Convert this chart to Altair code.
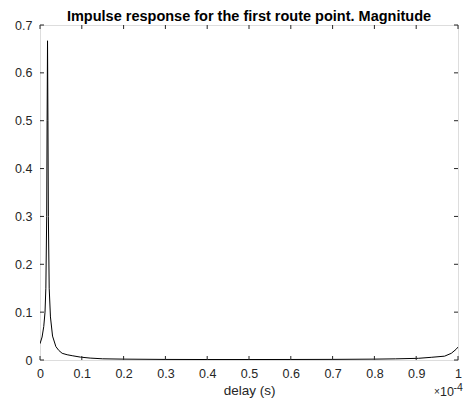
import altair as alt
import pandas as pd

# delay in units of 1e-4 s, magnitude
delay_e4 = [0.000, 0.005, 0.009, 0.012, 0.014, 0.016, 0.017, 0.018, 0.019, 0.020,
            0.022, 0.025, 0.030, 0.038, 0.045, 0.053, 0.065, 0.077, 0.097, 0.120,
            0.150, 0.200, 0.300, 0.400, 0.500, 0.600, 0.700, 0.800, 0.850, 0.905,
            0.936, 0.968, 0.984, 0.995, 1.000]
magnitude = [0.034, 0.048, 0.070, 0.100, 0.150, 0.300, 0.500, 0.667, 0.500, 0.300,
             0.150, 0.090, 0.050, 0.028, 0.020, 0.014, 0.011, 0.009, 0.006, 0.004,
             0.0025, 0.0018, 0.0012, 0.0010, 0.0010, 0.0011, 0.0013, 0.0018, 0.0024, 0.0035,
             0.0056, 0.008, 0.014, 0.022, 0.027]

x_ticks = [0, 0.1, 0.2, 0.3, 0.4, 0.5, 0.6, 0.7, 0.8, 0.9, 1]
y_ticks = [0, 0.1, 0.2, 0.3, 0.4, 0.5, 0.6, 0.7]

W, H = 418, 335
FONT = "Liberation Sans"
AX = "#262626"
TL = 4

df = pd.DataFrame({"delay": delay_e4, "mag": magnitude})
xs = alt.Scale(domain=[0, 1], nice=False, zero=False)
ys = alt.Scale(domain=[0, 0.7], nice=False)

x_axis = alt.Axis(values=x_ticks, title="delay (s)", ticks=False, domain=False,
                  grid=False, labelExpr="format(datum.value, '.1~f')",
                  labelFont=FONT, labelFontSize=12.5, labelColor=AX, labelPadding=7,
                  titleFont=FONT, titleFontSize=13.5, titleFontWeight="normal",
                  titleColor=AX, titlePadding=4, labelFlush=False)
y_axis = alt.Axis(values=y_ticks, title=None, ticks=False, domain=False, grid=False,
                  labelExpr="format(datum.value, '.1~f')",
                  labelFont=FONT, labelFontSize=12.5, labelColor=AX, labelPadding=8,
                  labelFlush=False)

line = alt.Chart(df).mark_line(color="black", strokeWidth=1, clip=True).encode(
    x=alt.X("delay:Q", scale=xs, axis=x_axis),
    y=alt.Y("mag:Q", scale=ys, axis=y_axis),
)

xt = pd.DataFrame({"t": x_ticks})
yt = pd.DataFrame({"t": y_ticks})
xb = alt.Chart(xt).mark_rule(color=AX, strokeWidth=1).encode(
    x=alt.X("t:Q", scale=xs, axis=x_axis), y=alt.value(H), y2=alt.value(H - TL))
xtop = alt.Chart(xt).mark_rule(color=AX, strokeWidth=1).encode(
    x=alt.X("t:Q", scale=xs, axis=x_axis), y=alt.value(0), y2=alt.value(TL))
yl = alt.Chart(yt).mark_rule(color=AX, strokeWidth=1).encode(
    y=alt.Y("t:Q", scale=ys, axis=y_axis), x=alt.value(0), x2=alt.value(TL))
yr = alt.Chart(yt).mark_rule(color=AX, strokeWidth=1).encode(
    y=alt.Y("t:Q", scale=ys, axis=y_axis), x=alt.value(W - TL), x2=alt.value(W))

times = alt.Chart(pd.DataFrame({"s": ["×"]})).mark_text(
    font=FONT, fontSize=10, color=AX, align="left", baseline="alphabetic").encode(
    text="s:N", x=alt.value(W - 24), y=alt.value(H + 35))
ten = alt.Chart(pd.DataFrame({"s": ["10"]})).mark_text(
    font=FONT, fontSize=12.5, color=AX, align="left", baseline="alphabetic").encode(
    text="s:N", x=alt.value(W - 18), y=alt.value(H + 36))
exp = alt.Chart(pd.DataFrame({"s": ["-4"]})).mark_text(
    font=FONT, fontSize=10.5, color=AX, align="left", baseline="alphabetic").encode(
    text="s:N", x=alt.value(W - 4.5), y=alt.value(H + 31))

chart = alt.layer(line, xb, xtop, yl, yr, times, ten, exp).properties(
    width=W, height=H,
    title=alt.TitleParams("Impulse response for the first route point. Magnitude",
                          font=FONT, fontSize=14.5, fontWeight="bold", color="black",
                          anchor="middle", offset=-5),
    autosize=alt.AutoSizeParams(type="none"),
    padding={"left": 32, "top": 17, "right": 5, "bottom": 39},
).configure_view(stroke=AX, strokeWidth=1).configure(background="white")

chart.save("out.html", embed_options={"renderer": "svg", "actions": False})
